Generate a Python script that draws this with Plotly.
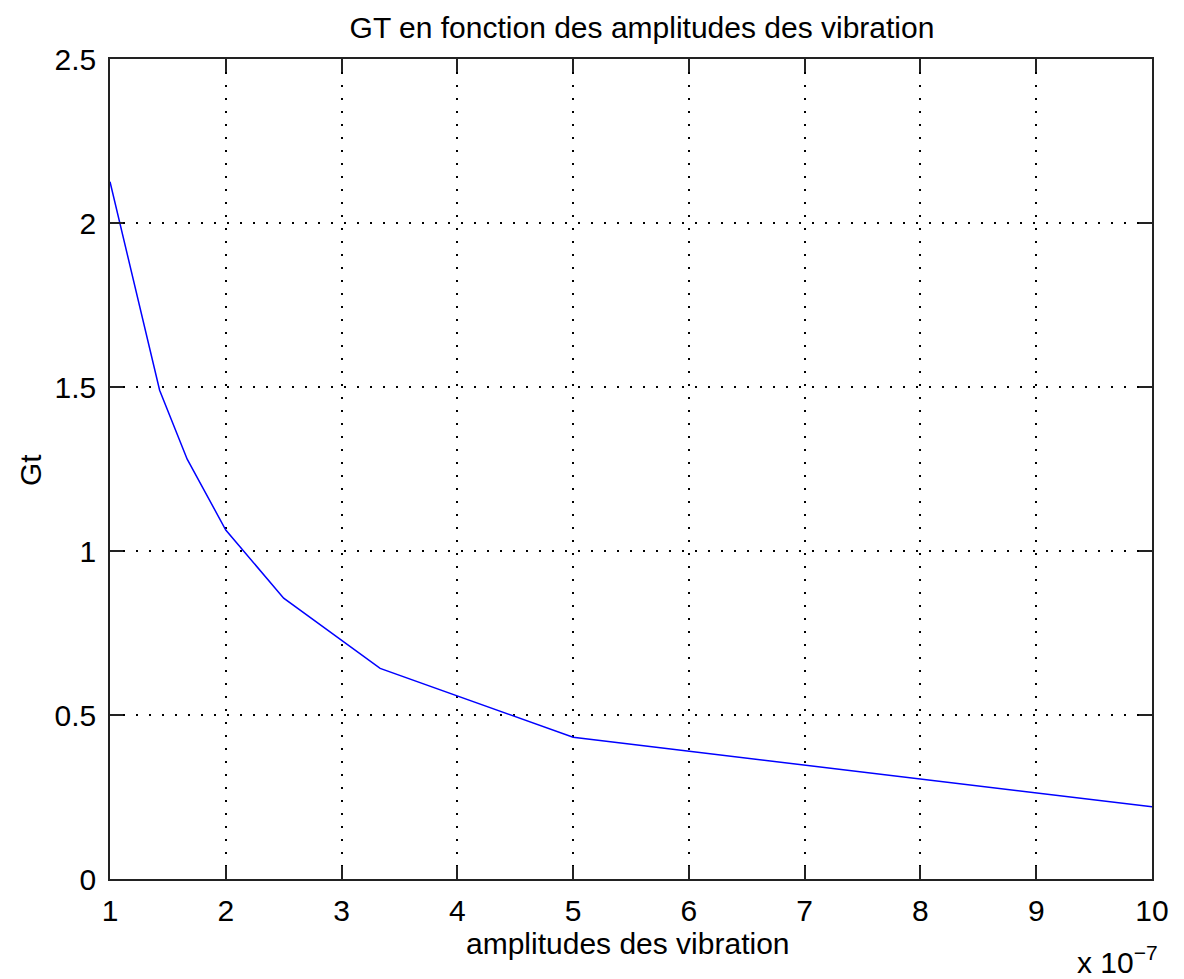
import plotly.graph_objects as go

# amplitudes des vibration (m)
amplitudes = [1.0e-7, 1.4286e-7, 1.6667e-7, 2.0e-7, 2.5e-7, 3.3333e-7, 5.0e-7, 10.0e-7]
gt_values = [2.126, 1.49, 1.28, 1.064, 0.856, 0.642, 0.432, 0.22]
x_tick_vals = [i * 1e-7 for i in range(1, 11)]
x_tick_text = [str(i) for i in range(1, 11)]
y_tick_vals = [0, 0.5, 1, 1.5, 2, 2.5]
y_tick_text = ["0", "0.5", "1", "1.5", "2", "2.5"]

W, H = 1184, 979
ML, MR, MT, MB = 110, 32, 59, 100
font = "Liberation Sans, Arial, sans-serif"
fs = 30

fig = go.Figure()
fig.add_trace(go.Scatter(x=amplitudes, y=gt_values, mode="lines",
                         line=dict(color="rgb(0,0,255)", width=1.5),
                         showlegend=False, hoverinfo="x+y"))

axis_common = dict(showline=True, linecolor="#222", linewidth=1.5, mirror="allticks",
                   ticks="inside", ticklen=13, tickwidth=1.5, tickcolor="#222",
                   showgrid=True, gridcolor="black", gridwidth=1.5, griddash="2px,11px",
                   zeroline=False, tickfont=dict(family=font, size=fs, color="black"))

fig.update_layout(
    width=W, height=H,
    margin=dict(l=ML, r=MR, t=MT, b=MB),
    paper_bgcolor="white", plot_bgcolor="white",
    font=dict(family=font, size=fs, color="black"),
    title=dict(text="GT en fonction des amplitudes des vibration", x=642 / W, xref="container",
               xanchor="center", y=1 - 27 / H, yanchor="middle", yref="container",
               font=dict(family=font, size=fs, color="black")),
    xaxis=dict(range=[1e-7, 10e-7], tickmode="array", tickvals=x_tick_vals, ticktext=x_tick_text,
               ticklabelstandoff=4, **axis_common),
    yaxis=dict(range=[0, 2.5], tickmode="array", tickvals=y_tick_vals, ticktext=y_tick_text,
               ticklabelstandoff=6, **axis_common),
)

ph = H - MT - MB
pw = W - ML - MR
fig.add_annotation(text="amplitudes des vibration", xref="paper", yref="paper",
                   x=(628 - ML) / pw, y=-(943 - (H - MB)) / ph, xanchor="center", yanchor="middle",
                   showarrow=False, font=dict(family=font, size=fs, color="black"))
fig.add_annotation(text="Gt", xref="paper", yref="paper", textangle=-90,
                   x=(30 - ML) / pw, y=(H - MB - 470) / ph, xanchor="center", yanchor="middle",
                   showarrow=False, font=dict(family=font, size=fs, color="black"))
fig.add_annotation(text="x 10<sup>−7</sup>", xref="paper", yref="paper",
                   x=(1160 - ML) / pw, y=-(960 - (H - MB)) / ph, xanchor="right", yanchor="middle",
                   showarrow=False, font=dict(family=font, size=fs, color="black"))

fig.write_html("out.html")
